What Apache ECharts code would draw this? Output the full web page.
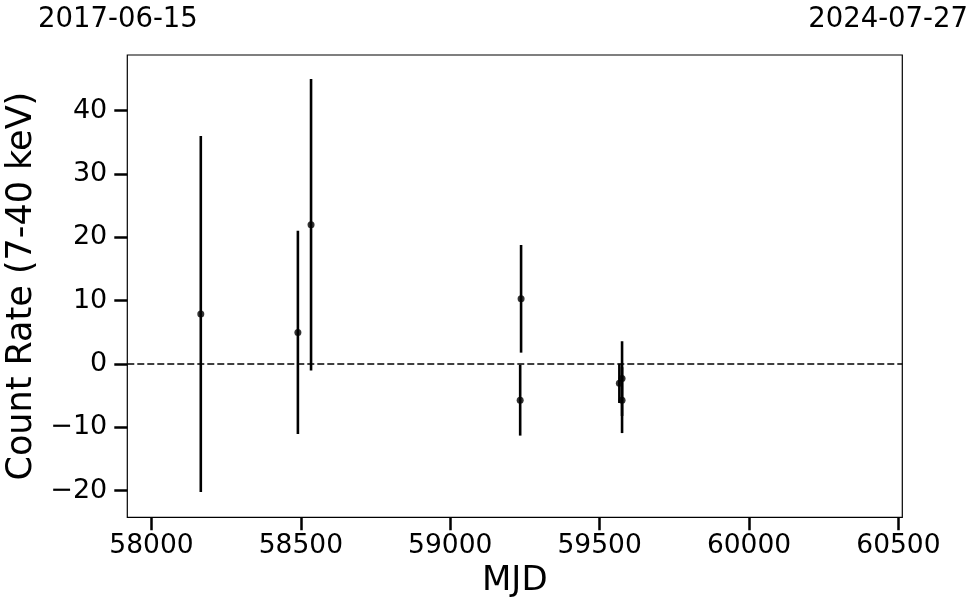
<!DOCTYPE html>
<html>
<head>
<meta charset="utf-8">
<script src="https://cdn.jsdelivr.net/npm/echarts@6/dist/echarts.min.js"></script>
<style>html,body{margin:0;padding:0;background:#fff;}#c{width:980px;height:613px;}</style>
</head>
<body>
<div id="c"></div>
<script>
// Data
var mjd   = [58165, 58490, 58534, 59237, 59234, 59575, 59566, 59575];
var rate  = [7.9,   5.0,   22.0,  10.3,  -5.7,  -2.3,  -3.05, -5.7];
var err   = [28.1,  16.05, 23.0,  8.5,   5.6,   5.9,   3.1,   5.2];
var xTicks = [58000, 58500, 59000, 59500, 60000, 60500];
var yTicks = [-20, -10, 0, 10, 20, 30, 40];
var xRange = [57919, 60513];
var yRange = [-24.2, 48.8];
var dateLabels = ['2017-06-15', '2024-07-27'];

var FONT = 'DejaVu Sans';
var pts = mjd.map(function (m, i) { return [m, rate[i]]; });
var bars = mjd.map(function (m, i) { return [m, rate[i] - err[i], rate[i] + err[i]]; });

var chart = echarts.init(document.getElementById('c'), null, {renderer: 'canvas'});
chart.setOption({
  animation: false,
  backgroundColor: '#fff',
  grid: {left: 127.3, right: 77.7, top: 55, bottom: 95.7, show: true, borderColor: '#000', borderWidth: 1.2,
    containLabel: false, outerBoundsMode: 'none'},
  xAxis: {
    type: 'value', min: xRange[0], max: xRange[1],
    name: 'MJD', nameLocation: 'middle', nameGap: 46,
    nameTextStyle: {fontFamily: FONT, fontSize: 34, color: '#000'},
    axisLine: {show: false, onZero: false},
    splitLine: {show: false},
    axisTick: {show: true, length: 13, lineStyle: {color: '#000', width: 2.5}, customValues: xTicks},
    axisLabel: {fontFamily: FONT, fontSize: 26.5, color: '#000', margin: 15, customValues: xTicks,
      formatter: function (v) { return String(v); }}
  },
  yAxis: {
    type: 'value', min: yRange[0], max: yRange[1],
    name: 'Count Rate (7-40 keV)', nameLocation: 'middle', nameGap: 82, nameRotate: 90,
    nameTextStyle: {fontFamily: FONT, fontSize: 35, color: '#000'},
    axisLine: {show: false, onZero: false},
    splitLine: {show: false},
    axisTick: {show: true, length: 13, lineStyle: {color: '#000', width: 2.5}, customValues: yTicks},
    axisLabel: {fontFamily: FONT, fontSize: 27, color: '#000', margin: 20, customValues: yTicks,
      formatter: function (v) { return v < 0 ? '\u2212' + Math.abs(v) : String(v); }}
  },
  graphic: [
    {type: 'text', left: 38, top: 6, style: {text: dateLabels[0], font: '27.5px "' + FONT + '"', fill: '#000'}},
    {type: 'text', right: 12, top: 6, style: {text: dateLabels[1], font: '27.5px "' + FONT + '"', fill: '#000'}}
  ],
  series: [
    {
      type: 'line', data: [[xRange[0], 0], [xRange[1], 0]], symbol: 'none', silent: true,
      lineStyle: {color: '#000', width: 1.5, type: [7, 3]}, z: 1
    },
    {
      type: 'custom', data: bars, z: 2,
      renderItem: function (params, api) {
        var lo = api.coord([api.value(0), api.value(1)]);
        var hi = api.coord([api.value(0), api.value(2)]);
        return {type: 'line', shape: {x1: lo[0], y1: lo[1], x2: hi[0], y2: hi[1]},
          style: {stroke: '#000', lineWidth: 2.6}};
      },
      encode: {x: 0, y: [1, 2]}
    },
    {
      type: 'scatter', data: pts, symbol: 'circle', symbolSize: 7, z: 3,
      itemStyle: {color: '#000'}
    }
  ]
});
</script>
</body>
</html>
